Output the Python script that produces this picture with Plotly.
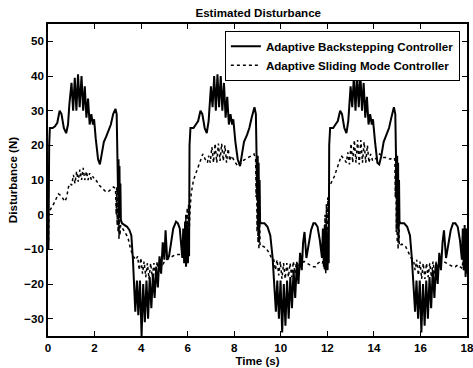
import plotly.graph_objects as go

# ---------------- data ----------------
t_abc = [
    # period 1
    0.00, 0.02, 0.05, 0.08, 0.20, 0.30, 0.40, 0.50, 0.58, 0.68, 0.78, 0.86, 0.92, 0.97,
    1.01, 1.08, 1.15, 1.22, 1.29, 1.36, 1.44, 1.51, 1.58, 1.65, 1.72, 1.79, 1.86, 1.93,
    1.98, 2.05, 2.15, 2.23, 2.30, 2.40, 2.50, 2.60, 2.70, 2.80, 2.90, 2.95, 2.99, 3.01,
    3.03, 3.05, 3.07, 3.09, 3.11, 3.13, 3.18, 3.30, 3.40, 3.50, 3.58, 3.65, 3.70, 3.75,
    3.82, 3.88, 3.95, 4.02, 4.09, 4.16, 4.23, 4.30, 4.37, 4.44, 4.51, 4.58, 4.65, 4.72,
    4.79, 4.86, 4.93, 5.00, 5.05, 5.12, 5.20, 5.28, 5.38, 5.50, 5.58, 5.66, 5.72, 5.77,
    5.81, 5.85, 5.89, 5.93, 5.97, 6.01, 6.04,
    # period 2
    6.06, 6.08, 6.12, 6.25, 6.35, 6.45, 6.55, 6.63, 6.73, 6.82, 6.90, 6.96, 7.00, 7.07,
    7.14, 7.21, 7.28, 7.35, 7.42, 7.49, 7.56, 7.63, 7.70, 7.77, 7.84, 7.91, 7.96, 8.05,
    8.15, 8.25, 8.32, 8.42, 8.55, 8.65, 8.75, 8.87, 8.93, 8.97, 8.99, 9.01, 9.03, 9.05,
    9.07, 9.09, 9.11, 9.15, 9.30, 9.43, 9.55, 9.65, 9.72, 9.79, 9.85, 9.92, 9.99, 10.06,
    10.13, 10.20, 10.27, 10.34, 10.41, 10.48, 10.55, 10.62, 10.69, 10.76, 10.83, 10.90,
    10.96, 11.02, 11.10, 11.20, 11.30, 11.40, 11.48, 11.58, 11.68, 11.77, 11.81, 11.85,
    11.89, 11.93, 11.97, 12.01, 12.04,
    # period 3
    12.06, 12.08, 12.12, 12.25, 12.35, 12.45, 12.55, 12.63, 12.73, 12.82, 12.90, 12.96,
    13.00, 13.07, 13.14, 13.21, 13.28, 13.35, 13.42, 13.49, 13.56, 13.63, 13.70, 13.77,
    13.84, 13.91, 13.96, 14.05, 14.15, 14.23, 14.32, 14.42, 14.55, 14.65, 14.75, 14.86,
    14.92, 14.96, 14.98, 15.00, 15.02, 15.04, 15.06, 15.08, 15.10, 15.15, 15.30, 15.43,
    15.55, 15.63, 15.70, 15.77, 15.83, 15.90, 15.97, 16.04, 16.11, 16.18, 16.25, 16.32,
    16.39, 16.46, 16.53, 16.60, 16.67, 16.74, 16.81, 16.88, 16.95, 17.01, 17.10, 17.20,
    17.30, 17.40, 17.50, 17.60, 17.70, 17.78, 17.82, 17.86, 17.90, 17.94, 17.97, 18.00,
]
y_abc = [
    # period 1
    0, -10, 20, 25, 25, 25.5, 26.5, 30, 29, 25, 23.5, 26, 32, 35,
    38, 30, 39.5, 30, 40.5, 31, 40, 30, 37, 28, 33.5, 26, 29, 26,
    27.5, 22, 16, 14.5, 17, 21, 22.5, 24, 26, 29, 30.5, 29, 18, 6,
    16, 3, 14, 0, 9, -1.5, -2.5, -3, -3.5, -4.5, -6, -13, -20, -28,
    -19, -29, -19, -35, -20, -31, -19, -30, -18, -27, -17, -24, -15, -21,
    -12, -17, -8, -13, -4.5, -13, -12, -8, -4, -2, -2.5, -4, -8, -12.5,
    -4, -14, -2, -15, -3, -14, -5,
    # period 2
    -12, 20, 25, 25, 26, 27, 30, 29, 25, 23.5, 27, 34, 37, 31,
    40, 30, 40.5, 31, 40, 30, 38, 28, 34, 26, 29, 26, 27.5, 21,
    16, 14, 17, 21, 23, 25, 28, 31, 29, 18, 5, 17, -4, 15,
    -8, 10, -2, -2.5, -2.5, -3.5, -6, -12.5, -22, -28, -19, -30, -19, -34,
    -20, -32, -19, -30, -18, -27, -16, -24, -14, -20, -11, -16,
    -8, -5, -12.5, -9, -4.5, -2.5, -2.5, -3.5, -7.5, -12.5, -4, -15,
    -3, -16, -4, -16, -6,
    # period 3
    -14, 20, 25, 25, 26, 27, 30, 29, 25, 23.5, 27, 34,
    37, 31, 40, 30, 40.5, 31, 40.5, 30, 38, 28, 34, 26,
    29, 26, 27.5, 21, 15, 14.5, 17, 21, 23, 25, 28, 31,
    29, 18, 5, 17, -4, 15, -8, 10, -2, -2.5, -2.5, -3.5,
    -6, -12.5, -22, -28, -19, -30, -19, -34, -20, -32, -19, -30,
    -18, -27, -16, -24, -14, -20, -11, -16, -8, -4.5, -12.5, -9,
    -4.5, -2.5, -2.5, -3.5, -7.5, -13, -4, -16, -3, -18, -4, -17,
]

t_asmc = [
    # period 1
    0.00, 0.02, 0.04, 0.10, 0.20, 0.32, 0.45, 0.55, 0.65, 0.73, 0.80, 0.88, 0.95, 1.02,
    1.09, 1.16, 1.23, 1.30, 1.37, 1.44, 1.51, 1.58, 1.65, 1.72, 1.79, 1.86, 1.93, 2.00,
    2.08, 2.20, 2.35, 2.50, 2.60, 2.72, 2.82, 2.90, 2.93, 2.95, 2.97, 2.99, 3.01, 3.03,
    3.05, 3.07, 3.09, 3.12, 3.20, 3.30, 3.43, 3.55, 3.66, 3.78, 3.85, 3.92, 3.99, 4.06,
    4.13, 4.20, 4.27, 4.34, 4.41, 4.48, 4.55, 4.62, 4.69, 4.76, 4.83, 4.90, 5.00, 5.10,
    5.20, 5.35, 5.50, 5.65, 5.75, 5.82, 5.86, 5.89, 5.92, 5.95, 5.98, 6.01, 6.04, 6.07,
    6.10,
    # period 2
    6.15, 6.25, 6.40, 6.55, 6.65, 6.75, 6.85, 6.90, 6.97, 7.04, 7.11, 7.18, 7.25, 7.32,
    7.39, 7.46, 7.53, 7.60, 7.67, 7.74, 7.81, 7.88, 7.95, 8.05, 8.15, 8.25, 8.35, 8.45,
    8.60, 8.75, 8.85, 8.92, 8.94, 8.96, 8.98, 9.00, 9.02, 9.04, 9.06, 9.08, 9.11, 9.20,
    9.35, 9.50, 9.60, 9.70, 9.77, 9.84, 9.91, 9.98, 10.05, 10.12, 10.19, 10.26, 10.33,
    10.40, 10.47, 10.54, 10.61, 10.68, 10.75, 10.82, 10.90, 11.00, 11.10, 11.25, 11.40,
    11.50, 11.60, 11.72, 11.80, 11.84, 11.87, 11.90, 11.93, 11.96, 11.99, 12.02, 12.05,
    12.08,
    # period 3
    12.15, 12.30, 12.45, 12.60, 12.72, 12.82, 12.88, 12.95, 13.02, 13.09, 13.16, 13.23,
    13.30, 13.37, 13.44, 13.51, 13.58, 13.65, 13.72, 13.79, 13.86, 13.95, 14.05, 14.15,
    14.25, 14.40, 14.55, 14.70, 14.82, 14.90, 14.92, 14.94, 14.96, 14.98, 15.00, 15.02,
    15.04, 15.06, 15.09, 15.20, 15.35, 15.50, 15.60, 15.70, 15.77, 15.84, 15.91, 15.98,
    16.05, 16.12, 16.19, 16.26, 16.33, 16.40, 16.47, 16.54, 16.61, 16.68, 16.75, 16.82,
    16.90, 17.00, 17.10, 17.25, 17.40, 17.50, 17.60, 17.72, 17.80, 17.85, 17.88, 17.92,
    17.95, 18.00,
]
y_asmc = [
    # period 1
    0, -8, 0, 1.5, 2.5, 4, 6, 5.5, 4.5, 3.8, 5, 8, 9, 8.5,
    11.5, 9, 12.5, 9.5, 13, 10, 13.5, 10, 12.5, 10, 12, 10, 11, 10,
    9.8, 8.5, 7.5, 6.5, 6.7, 7.5, 8, 7.5, 0, 8, -3, 7, -5, 6,
    -7, 4, -6, -3, -4, -5, -6.5, -10, -12, -13, -12, -16, -12.5, -17,
    -13.5, -18, -14, -18.5, -14, -18, -14, -17.5, -13.5, -16.5, -13, -15, -13.5, -13,
    -12.5, -12, -11.5, -11.5, -12, -12, -4, -13, 0, -14, 2, -12, 3, -4,
    1,
    # period 2
    6, 10, 13, 16, 17.5, 16, 15, 17, 15, 19.5, 15, 20.5, 15, 20.5,
    15.5, 20.5, 15.5, 20, 15, 19, 15.5, 17, 16, 15, 14, 14.5, 15.5, 16,
    16.5, 17, 17.5, 16, 5, 16, -5, 14, -8, 11, -10, 6, -9, -9,
    -9.5, -11, -12.5, -13, -16, -13, -17.5, -13.5, -18.5, -14, -18.5, -14, -18,
    -14, -18, -13.5, -17, -13.5, -16, -13, -14, -13.5, -14, -14.5, -15,
    -15, -14, -13.5, -14, -4, -16, 0, -17, 3, -15, 5, -3,
    8,
    # period 3
    9, 11, 14, 17, 16, 15, 18, 14.5, 20.5, 15, 21.5, 15,
    21.5, 14.5, 21.5, 15, 21, 15, 20, 15, 17.5, 15.5, 16, 16.5,
    17.5, 16.5, 16.5, 16, 16.5, 16, 5, 16, -5, 14, -8, 11,
    -10, 6, -9, -8.5, -9, -11, -12.5, -13, -16, -13, -17.5, -13.5,
    -18.5, -14, -18.5, -14, -18, -14, -18, -13.5, -17, -13.5, -16, -13,
    -14, -13.5, -14, -14.5, -15, -15, -14.5, -15, -15.5, -9, -16, -6,
    -17, -17,
]

x_ticks = [0, 2, 4, 6, 8, 10, 12, 14, 16, 18]
y_ticks = [-30, -20, -10, 0, 10, 20, 30, 40, 50]

# ---------------- figure ----------------
FONT = "Liberation Sans, Arial, sans-serif"
FS = 11.6

fig = go.Figure()
fig.add_trace(go.Scatter(
    x=t_abc, y=y_abc, mode="lines",
    name="Adaptive Backstepping Controller",
    line=dict(color="black", width=2),
))
fig.add_trace(go.Scatter(
    x=t_asmc, y=y_asmc, mode="lines",
    name="Adaptive Sliding Mode Controller",
    line=dict(color="black", width=1.5, dash="dot"),
))

axis_common = dict(
    showline=True, linecolor="black", linewidth=1.5, mirror="ticks",
    ticks="inside", ticklen=5, tickwidth=1.2, tickcolor="black",
    showgrid=False, zeroline=False, ticklabeloverflow="allow",
    tickfont=dict(family=FONT, size=FS, color="black", weight="bold"),
)

fig.update_layout(
    width=473, height=368,
    margin=dict(l=48, r=4, t=24, b=32),
    paper_bgcolor="white", plot_bgcolor="white",
    font=dict(family=FONT, size=FS, color="black", weight="bold"),
    title=dict(text="Estimated Disturbance", x=0.546, xanchor="center",
               y=1 - 12.5 / 368, yanchor="middle",
               font=dict(family=FONT, size=FS, color="black", weight="bold")),
    xaxis=dict(range=[0, 18], tickvals=x_ticks, automargin=False,
               title=dict(text="Time (s)", standoff=2,
                          font=dict(family=FONT, size=FS, weight="bold")),
               **axis_common),
    yaxis=dict(range=[-35, 55], tickvals=y_ticks,
               title=dict(text="Disturbance (N)", standoff=4,
                          font=dict(family=FONT, size=FS, weight="bold")),
               **axis_common),
    legend=dict(x=0.983, xanchor="right", y=0.978, yanchor="top",
                bordercolor="black", borderwidth=1, bgcolor="white",
                font=dict(family=FONT, size=FS, color="black", weight="bold"),
                tracegroupgap=0, itemwidth=30),
    showlegend=True,
)

fig.write_html("out.html",
               config={"displayModeBar": False},
               post_script="document.body.style.margin='0';document.body.style.padding='0';")
